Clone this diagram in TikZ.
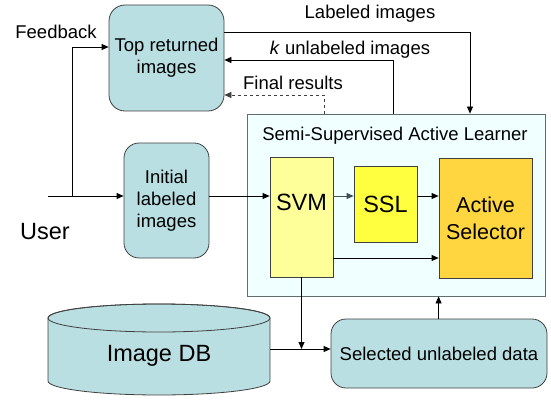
\documentclass[tikz,border=0pt]{standalone}
\usepackage{fontspec}
\setmainfont{Liberation Sans}
\usetikzlibrary{arrows.meta}
\definecolor{boxteal}{HTML}{B9DFE2}
\definecolor{boxline}{HTML}{404040}
\definecolor{learnfill}{HTML}{F0FFFF}
\definecolor{learnline}{HTML}{5E6E6E}
\definecolor{svmfill}{HTML}{FFFF99}
\definecolor{sslfill}{HTML}{FFFF40}
\definecolor{actfill}{HTML}{FFD640}
\definecolor{slate}{HTML}{405058}
\begin{document}
\begin{tikzpicture}[x=1pt,y=-1pt,
  tbox/.style={draw=boxline, fill=boxteal, line width=0.8pt, align=center, inner sep=0pt,
    font=\fontsize{18.5}{22}\selectfont},
  ybox/.style={draw=boxline, line width=0.8pt, align=center, inner sep=0pt},
  lbl/.style={font=\fontsize{18.5}{22}\selectfont, inner sep=0pt},
  big/.style={font=\fontsize{23.5}{27}\selectfont, inner sep=0pt},
  arr/.style={line width=0.8pt, -{Triangle[length=7pt,width=6pt]}},
  ln/.style={line width=0.8pt}]
\useasboundingbox (0,0) rectangle (551,401);

% boxes
\node[tbox, rounded corners=16pt, minimum width=115pt, minimum height=106pt] (top) at (166.5,58) {Top returned\\images};
\node[tbox, rounded corners=15pt, minimum width=85pt, minimum height=115pt] (init) at (166.5,200.5) {Initial\\labeled\\images};
\node[draw=learnline, fill=learnfill, line width=0.8pt, minimum width=298pt, minimum height=182pt, inner sep=0pt] (ssal) at (396,205) {};
\node[lbl] (title) at (395,136) {Semi-Supervised Active Learner};
\node[ybox, fill=svmfill, minimum width=63pt, minimum height=120pt,
  label={[big, name=svmt, yshift=15pt]center:SVM}] (svm) at (301.5,217) {};
\node[ybox, fill=sslfill, minimum width=63pt, minimum height=76pt, big] (ssl) at (385.5,204) {SSL};
\node[ybox, fill=actfill, minimum width=93pt, minimum height=120pt,
  font=\fontsize{21.5}{27}\selectfont] (act) at (485.5,218) {Active\\Selector};
\node[tbox, rounded corners=15pt, minimum width=216pt, minimum height=69pt] (sel) at (439,353.5) {Selected unlabeled data};

% database cylinder
\filldraw[fill=boxteal, draw=boxline, line width=0.8pt]
  (48,318) -- (48,381) arc[start angle=180, end angle=360, x radius=111pt, y radius=14pt]
  -- (270,318) arc[start angle=0, end angle=180, x radius=111pt, y radius=14pt] -- cycle;
\draw[draw=boxline, line width=0.8pt] (159,318) ellipse[x radius=111pt, y radius=14pt];
\node[big] (db) at (159,356) {Image DB};

% free texts
\node[lbl] (lblimg) at (370,14) {Labeled images};
\node[lbl] (kun) at (350,50) {\textit{k} unlabeled images};
\node[lbl] (fin) at (293,83) {Final results};
\node[lbl] (fb) at (56,32) {Feedback};
\node[big] (user) at (45,232) {User};

% coordinates
\coordinate (usr) at (48,196);
\coordinate (fbx) at (72,196);
\coordinate (low) at (0,258);
\coordinate (join) at (301.5,349);
\coordinate (dbr) at (270,349);

% connectors
\draw[arr] ([yshift=26pt]top.east) -| ([xshift=74pt]ssal.north);
\draw[arr] ([xshift=-3pt]ssal.north) |- ([yshift=-2pt]top.east);
\draw[arr, dashed, draw=boxline] ([xshift=-72pt]ssal.north) |- ([yshift=-37pt]top.east);
\draw[arr] (fbx) |- ([yshift=11pt]top.west);
\draw[arr] (usr) -- (init.west |- usr);
\draw[arr] (init.east |- usr) -- (svm.west |- usr);
\draw[arr, draw=slate] (svm.east |- usr) -- (ssl.west |- usr);
\draw[arr] (ssl.east |- usr) -- (act.west |- usr);
\draw[arr] (svm.east |- low) -- (act.west |- low);
\draw[arr] (svm.south) -- (join);
\draw[arr] (dbr) -- (sel.west |- dbr);
\draw[arr] (sel.north -| act.west) -- (ssal.south -| act.west);
\end{tikzpicture}
\end{document}
